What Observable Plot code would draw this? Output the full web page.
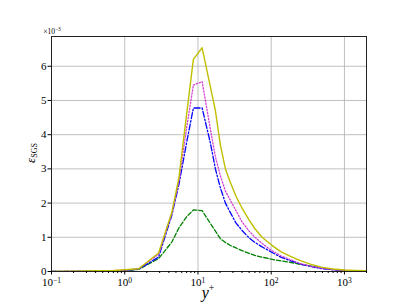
<!DOCTYPE html>
<html><head><meta charset="utf-8">
<script src="https://cdn.jsdelivr.net/npm/d3@7"></script>
<script src="https://cdn.jsdelivr.net/npm/@observablehq/plot@0.6"></script>
<style>body{margin:0;background:#fff}</style>
</head><body><div id="chart"></div>
<script>
const yPlus   = [0.1,0.2,0.4,0.7,1.0,1.55,2.9,4.4,5.5,7.0,8.65,11.4,14.8,17.3,20.2,23.7,27.7,33,40,50,60,75,100,135,180,250,350,500,700,1000,1400,2000];
const yellowS = [0.005,0.01,0.02,0.03,0.05,0.08,0.54,1.73,2.75,4.6,6.2,6.54,5.39,4.7,3.7,3.0,2.6,2.2,1.85,1.5,1.25,1.0,0.78,0.58,0.45,0.32,0.21,0.12,0.075,0.045,0.03,0.02];
const magentaS= [0.004,0.008,0.015,0.025,0.04,0.08,0.5,1.7,2.65,4.2,5.45,5.55,4.15,3.35,2.8,2.35,2.08,1.78,1.45,1.18,1.0,0.82,0.62,0.46,0.35,0.23,0.15,0.09,0.055,0.03,0.02,0.01];
const blueS   = [0.003,0.006,0.012,0.02,0.03,0.07,0.42,1.65,2.55,3.77,4.78,4.78,3.75,3.0,2.45,2.0,1.72,1.42,1.2,0.98,0.85,0.72,0.57,0.42,0.32,0.22,0.14,0.08,0.05,0.03,0.015,0.008];
const greenS  = [0.002,0.004,0.008,0.012,0.02,0.06,0.38,0.86,1.28,1.6,1.8,1.78,1.4,1.18,0.96,0.85,0.76,0.69,0.61,0.53,0.47,0.42,0.36,0.31,0.27,0.21,0.16,0.1,0.06,0.03,0.015,0.005];
const xMajor = [0.1,1,10,100,1000];
const xMinor = [];
for (const d of [0.1,1,10,100,1000]) for (let k=2;k<=9;k++){ const v=d*k; if (v<=2000) xMinor.push(v); }
const yTicks = [0,1,2,3,4,5,6];
const expOf = v => "10^" + Math.round(Math.log10(v));

const mk = arr => yPlus.map((x,i)=>({x, v: arr[i]}));
const chart = Plot.plot({
  width: 407, height: 305,
  marginLeft: 51, marginRight: 41, marginTop: 36, marginBottom: 34,
  style: {fontFamily: "Liberation Serif", fontSize: "10px", background: "#fff", color: "#000"},
  x: {type: "log", domain: [0.1, 2000]},
  y: {domain: [0, 6.87]},
  marks: [
    Plot.gridX(xMajor, {stroke: "#b0b0b0", strokeOpacity: 1, strokeWidth: 0.8}),
    Plot.gridY(yTicks, {stroke: "#b0b0b0", strokeOpacity: 1, strokeWidth: 0.8}),
    Plot.line(mk(greenS), {x: "x", y: "v", stroke: "#008000", strokeWidth: 1.3, strokeDasharray: "4.5,2"}),
    Plot.line(mk(blueS), {x: "x", y: "v", stroke: "#0000ff", strokeWidth: 1.3, strokeDasharray: "6,2,1.5,2"}),
    Plot.line(mk(magentaS), {x: "x", y: "v", stroke: "#d43fd4", strokeWidth: 1.3, strokeDasharray: "1.3,1.8"}),
    Plot.line(mk(yellowS), {x: "x", y: "v", stroke: "#bfbf00", strokeWidth: 1.4}),
    Plot.frame({stroke: "#222", strokeWidth: 1}),
    Plot.axisX(xMajor, {tickSize: 3.5, tickPadding: 3.5, tickFormat: expOf, fontSize: 11, label: null}),
    Plot.axisX(xMinor, {tickSize: 2, tickFormat: () => "", label: null}),
    Plot.axisY(yTicks, {tickSize: 3.5, tickPadding: 1.5, fontSize: 11, label: null})
  ]
});
const svg = d3.select(chart);
// turn "10^e" tick labels into 10 with a raised exponent
svg.selectAll("text").each(function() {
  const t = d3.select(this);
  const s = t.text();
  if (!s.startsWith("10^")) return;
  const e = s.slice(3).replace("-", "\u2212");
  t.text("");
  t.append("tspan").text("10");
  t.append("tspan").attr("font-size", 7.5).attr("dy", "-0.5em").text(e);
});
const t1 = svg.append("text").attr("transform", "translate(35,153) rotate(-90)")
  .attr("text-anchor", "middle").attr("font-family", "Liberation Serif").attr("font-size", 13).attr("fill", "#000");
t1.append("tspan").attr("font-style", "italic").text("\u03B5");
t1.append("tspan").attr("font-size", 8).attr("dy", 2).text("SGS");
const t3 = svg.append("text").attr("x", 52).attr("y", 34).attr("font-family", "Liberation Serif").attr("font-size", 7.5).attr("fill", "#000");
t3.append("tspan").text("\u00D710");
t3.append("tspan").attr("font-size", 5.5).attr("dy", -3).text("\u22123");
const t2 = svg.append("text").attr("x", 208).attr("y", 298).attr("text-anchor", "middle")
  .attr("font-family", "Liberation Serif").attr("font-size", 16).attr("fill", "#000");
t2.append("tspan").attr("font-style", "italic").text("y");
t2.append("tspan").attr("font-size", 10).attr("dy", -7).text("+");
document.getElementById("chart").appendChild(chart);
</script></body></html>
